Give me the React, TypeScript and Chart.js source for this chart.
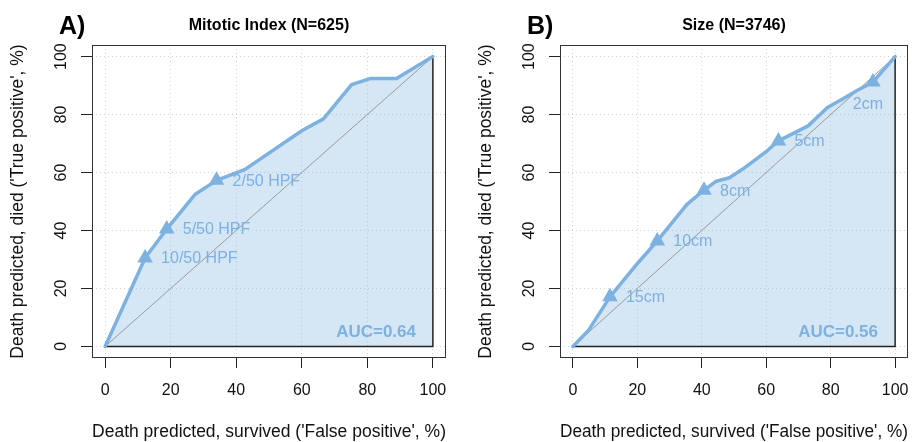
import React, { useEffect, useRef } from "react";
import { Chart, registerables } from "chart.js";
Chart.register(...registerables);

const FONT = "'Liberation Sans', Arial, Helvetica, sans-serif";
const BLUE = "#7DB1E0";
const FILL = "rgba(125,177,224,0.32)";

const axisTicks = [0, 20, 40, 60, 80, 100];
const chanceLine = [0, 100];
const xTitle = "Death predicted, survived ('False positive', %)";
const yTitle = "Death predicted, died ('True positive', %)";

// Panel A — Mitotic index
const titleA = "Mitotic Index (N=625)";
const tagA = "A)";
const aucA = "AUC=0.64";
const fprA = [0, 12.2, 18.8, 27.4, 34, 42.7, 60, 66.6, 75.2, 80.8, 88.9, 100];
const tprA = [0, 30.5, 40.5, 52.4, 57.3, 61.1, 74.4, 78.5, 90.3, 92.4, 92.4, 100];
const cutNamesA = ["10/50 HPF", "5/50 HPF", "2/50 HPF"];
const cutFprA = [12.2, 18.8, 34];
const cutTprA = [30.5, 40.5, 57.3];
const cutSideA = ["right", "right", "right"];

// Panel B — Size
const titleB = "Size (N=3746)";
const tagB = "B)";
const aucB = "AUC=0.56";
const fprB = [0, 4.9, 11.5, 20.1, 26.2, 35.4, 40.7, 44.5, 48.6, 52.6, 60.3, 63.8, 73, 79.1, 83.7, 88.2, 93.1, 100];
const tprB = [0, 5.6, 17.1, 28.7, 36.4, 49, 53.9, 57, 58.2, 61.1, 67.5, 70.9, 76.1, 82.5, 85.4, 88.3, 91.2, 100];
const cutNamesB = ["15cm", "10cm", "8cm", "5cm", "2cm"];
const cutFprB = [11.5, 26.2, 40.7, 63.8, 93.1];
const cutTprB = [17.1, 36.4, 53.9, 70.9, 91.2];
const cutSideB = ["right", "right", "right", "right", "below"];

type PanelProps = {
  fpr: number[];
  tpr: number[];
  cutNames: string[];
  cutFpr: number[];
  cutTpr: number[];
  cutSide: string[];
  title: string;
  tag: string;
  auc: string;
  left: number;
  width: number;
  rightPad: number;
};

function RocPanel(p: PanelProps) {
  const ref = useRef<HTMLCanvasElement>(null);
  useEffect(() => {
    const canvas = ref.current!;
    const roc = p.fpr.map((x, i) => ({ x, y: p.tpr[i] }));
    const cuts = p.cutFpr.map((x, i) => ({ x, y: p.cutTpr[i] }));
    const lo = chanceLine[0];
    const hi = chanceLine[1];
    const diag = [{ x: lo, y: lo }, { x: hi, y: hi }];
    const edge = [{ x: lo, y: lo }, { x: hi, y: lo }, { x: hi, y: hi }];

    const textPlugin = {
      id: "rocText",
      afterDatasetsDraw(chart: any) {
        const { ctx, chartArea, scales } = chart;
        const xs = scales.x;
        const ys = scales.y;
        ctx.save();
        ctx.font = `16px ${FONT}`;
        ctx.fillStyle = BLUE;
        ctx.textBaseline = "middle";
        cuts.forEach((c, i) => {
          const px = xs.getPixelForValue(c.x);
          const py = ys.getPixelForValue(c.y);
          if (p.cutSide[i] === "below") {
            ctx.textAlign = "center";
            ctx.fillText(p.cutNames[i], px - 5, py + 22);
          } else {
            ctx.textAlign = "left";
            ctx.fillText(p.cutNames[i], px + 16, py + 1);
          }
        });
        ctx.font = `bold 17px ${FONT}`;
        ctx.textAlign = "right";
        ctx.fillText(p.auc, chartArea.right - 30, chartArea.bottom - 26);
        ctx.restore();
      },
      afterDraw(chart: any) {
        const { ctx, chartArea } = chart;
        ctx.save();
        ctx.strokeStyle = "#333";
        ctx.lineWidth = 1;
        ctx.strokeRect(
          chartArea.left + 0.5,
          chartArea.top + 0.5,
          chartArea.right - chartArea.left - 1,
          chartArea.bottom - chartArea.top - 1
        );
        ctx.fillStyle = "#000";
        ctx.textBaseline = "middle";
        ctx.textAlign = "center";
        ctx.font = `bold 16px ${FONT}`;
        ctx.fillText(p.title, (chartArea.left + chartArea.right) / 2, 26);
        ctx.textAlign = "left";
        ctx.font = `bold 25px ${FONT}`;
        ctx.fillText(p.tag, chartArea.left - 33, 27);
        ctx.restore();
      },
    };

    const setTicks = (s: any) => {
      s.ticks = axisTicks.map((v) => ({ value: v }));
    };

    const chart = new Chart(canvas, {
      type: "scatter",
      data: {
        datasets: [
          {
            data: cuts,
            showLine: false,
            pointStyle: "triangle",
            pointRadius: 9,
            pointHoverRadius: 9,
            backgroundColor: BLUE,
            borderColor: BLUE,
            borderWidth: 0,
          },
          {
            data: roc,
            showLine: true,
            borderColor: BLUE,
            borderWidth: 3.5,
            pointRadius: 0,
            fill: false,
            borderJoinStyle: "round",
            borderCapStyle: "round",
          },
          {
            data: edge,
            showLine: true,
            borderColor: "#222",
            borderWidth: 1.5,
            pointRadius: 0,
            fill: false,
          },
          {
            data: diag,
            showLine: true,
            borderColor: "#9a9a9a",
            borderWidth: 1,
            pointRadius: 0,
            fill: false,
          },
          {
            data: roc,
            showLine: true,
            borderWidth: 0,
            borderColor: "rgba(0,0,0,0)",
            backgroundColor: FILL,
            pointRadius: 0,
            fill: "origin",
          },
        ],
      } as any,
      options: {
        animation: false,
        responsive: false,
        events: [],
        layout: { padding: { left: 0, top: 45, right: p.rightPad, bottom: 0 } },
        plugins: {
          legend: { display: false },
          tooltip: { enabled: false },
          title: { display: false },
        },
        scales: {
          x: {
            type: "linear",
            min: -4,
            max: 104,
            afterBuildTicks: setTicks,
            afterFit: (s: any) => {
              s.height = 84;
              s.paddingLeft = 0;
              s.paddingRight = 0;
            },
            grid: {
              color: "#d3d3d3",
              lineWidth: 1,
              tickLength: 10,
              tickColor: "#222",
              tickWidth: 1,
            },
            border: { display: false, dash: [1, 3] },
            ticks: {
              font: { size: 16, family: FONT },
              color: "#111",
              padding: 13.4,
              minRotation: 0,
              maxRotation: 0,
            },
            title: {
              display: true,
              text: xTitle,
              font: { size: 17.5, family: FONT },
              color: "#111",
              padding: { top: 0, bottom: -1 },
            },
          },
          y: {
            type: "linear",
            min: -4,
            max: 104,
            afterBuildTicks: setTicks,
            afterFit: (s: any) => {
              s.width = 92;
              s.paddingTop = 0;
              s.paddingBottom = 0;
            },
            grid: {
              color: "#d3d3d3",
              lineWidth: 1,
              tickLength: 11,
              tickColor: "#222",
              tickWidth: 1,
            },
            border: { display: false, dash: [1, 3] },
            ticks: {
              font: { size: 16, family: FONT },
              color: "#111",
              padding: 6,
              minRotation: 90,
              maxRotation: 90,
              crossAlign: "center",
            },
            title: {
              display: true,
              text: yTitle,
              font: { size: 17.5, family: FONT },
              color: "#111",
              padding: { top: 7.5, bottom: 0 },
            },
          },
        },
      } as any,
      plugins: [textPlugin],
    });
    return () => chart.destroy();
  }, []);

  return (
    <canvas
      ref={ref}
      width={p.width}
      height={442}
      style={{ position: "absolute", left: p.left, top: 0, width: p.width, height: 442 }}
    />
  );
}

export default function App() {
  return (
    <div style={{ position: "absolute", left: 0, top: 0, width: 917, height: 442, background: "#fff", overflow: "hidden" }}>
      <RocPanel
        fpr={fprA}
        tpr={tprA}
        cutNames={cutNamesA}
        cutFpr={cutFprA}
        cutTpr={cutTprA}
        cutSide={cutSideA}
        title={titleA}
        tag={tagA}
        auc={aucA}
        left={0}
        width={458}
        rightPad={12}
      />
      <RocPanel
        fpr={fprB}
        tpr={tprB}
        cutNames={cutNamesB}
        cutFpr={cutFprB}
        cutTpr={cutTprB}
        cutSide={cutSideB}
        title={titleB}
        tag={tagB}
        auc={aucB}
        left={468}
        width={449}
        rightPad={2}
      />
    </div>
  );
}
